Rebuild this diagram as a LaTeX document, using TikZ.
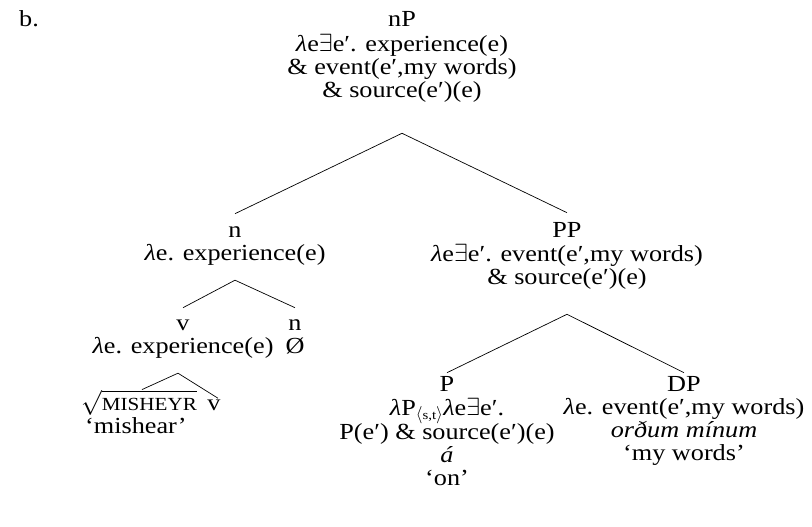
\documentclass[tikz,border=0pt]{standalone}
\usepackage{fontspec}
\setmainfont{Liberation Serif}[FakeStretch=1.14]
\newcommand\tb[1]{\begin{tabular}[t]{@{}c@{}}#1\end{tabular}}
\newcommand\lam{\textit{λ}}
\newcommand\ex{$\exists$}
\begin{document}
\begin{tikzpicture}[x=1pt,y=-1pt,
  every node/.style={font=\fontsize{23}{23}\selectfont, inner sep=0pt, anchor=base},
  branch/.style={line width=0.7pt}]
\useasboundingbox (0,0) rectangle (812,527);
\node (b) [anchor=base west] at (19,27) {b.};
\node (nP) at (402,27) {\tb{nP\\\lam e\ex e′. experience(e)\\\& event(e′,my words)\\\& source(e′)(e)}};
\node (n) at (235,237) {\tb{n\\\lam e. experience(e)}};
\node (PP) at (567,237) {\tb{PP\\\lam e\ex e′. event(e′,my words)\\\& source(e′)(e)}};
\node (v) at (183,330) {\tb{v\\\lam e. experience(e)}};
\node (n0) at (295,330) {\tb{n\\Ø}};
\node (root) [anchor=base west] at (81,410) {\begin{tabular}[t]{@{}l@{}}$\sqrt{\mbox{\fontsize{18.5}{18.5}\selectfont MISHEYR}}$\\\hspace{4pt}‘mishear’\end{tabular}};
\node (vl) at (214,410) {v};
\node (P) at (447,391) {\tb{P\\\lam P$_{\langle\mbox{\fontsize{13}{13}\selectfont s,t}\rangle}$\lam e\ex e′.\\P(e′) \& source(e′)(e)\\\textit{á}\\‘on’}};
\node (DP) at (684,391) {\tb{DP\\\lam e. event(e′,my words)\\\textit{orðum mínum}\\‘my words’}};
\draw[branch] ([yshift=-29pt]nP.south) -- ([yshift=7pt]n.north);
\draw[branch] ([yshift=-29pt]nP.south) -- ([yshift=8pt]PP.north);
\draw[branch] ([yshift=-13pt]n.south) -- ([yshift=6pt]v.north);
\draw[branch] ([yshift=-13pt]n.south) -- ([yshift=6pt]n0.north);
\draw[branch] ([yshift=-23pt]PP.south) -- ([yshift=2pt]P.north);
\draw[branch] ([yshift=-23pt]PP.south) -- ([yshift=2pt]DP.north);
\draw[branch] ([xshift=-5pt,yshift=-13pt]v.south) -- ([xshift=61pt,yshift=0pt]root.north west);
\draw[branch] ([xshift=-5pt,yshift=-13pt]v.south) -- ([xshift=4pt,yshift=1pt]vl.north);
\end{tikzpicture}
\end{document}
